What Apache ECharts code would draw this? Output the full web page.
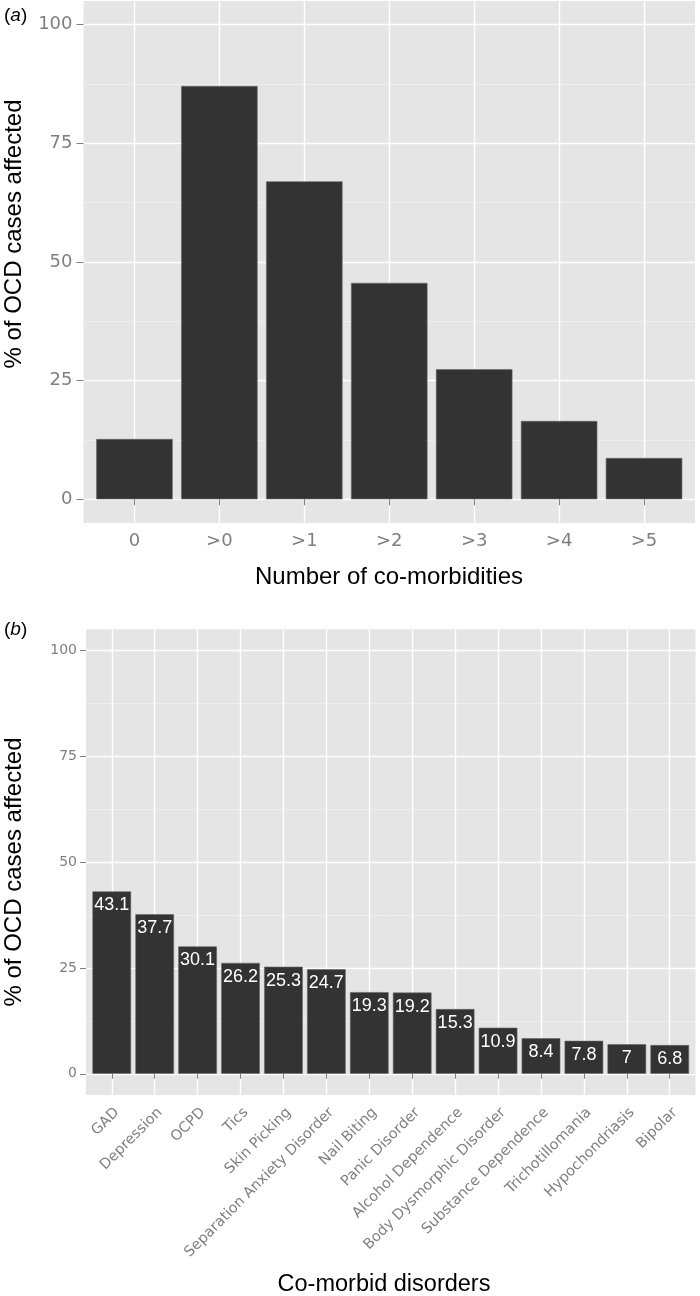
<!DOCTYPE html>
<html>
<head>
<meta charset="utf-8">
<script src="https://cdn.jsdelivr.net/npm/echarts@6/dist/echarts.min.js"></script>
<style>html,body{margin:0;padding:0;background:#fff;}#c{width:700px;height:1296px;}</style>
</head>
<body>
<div id="c"></div>
<script>
// ---- data ----
const catsA = ['0', '>0', '>1', '>2', '>3', '>4', '>5'];
const valsA = [12.7, 87.1, 67.0, 45.6, 27.4, 16.5, 8.7];
const catsB = ['GAD', 'Depression', 'OCPD', 'Tics', 'Skin Picking', 'Separation Anxiety Disorder',
  'Nail Biting', 'Panic Disorder', 'Alcohol Dependence', 'Body Dysmorphic Disorder',
  'Substance Dependence', 'Trichotillomania', 'Hypochondriasis', 'Bipolar'];
const valsB = [43.1, 37.7, 30.1, 26.2, 25.3, 24.7, 19.3, 19.2, 15.3, 10.9, 8.4, 7.8, 7, 6.8];
const yTicks = [0, 25, 50, 75, 100];
const titleA_x = 'Number of co-morbidities';
const titleB_x = 'Co-morbid disorders';
const titleY = '% of OCD cases affected';

// ---- layout ----
const TICK_FONT = 'DejaVu Sans';
const MAIN_FONT = 'Liberation Sans, Arial, sans-serif';
const GREY = '#7F7F7F';
const BG = '#E5E5E5';
const yMin = yTicks[0], yMax = yTicks[yTicks.length - 1], yStep = yTicks[1] - yTicks[0];
const pad = (yMax - yMin) * 0.05;

function panel(p) {
  const unit = p.width / (p.nCat + 0.2);
  const scale = p.height / (yMax - yMin + 2 * pad);
  return {
    bg: { left: p.left, top: p.top, width: p.width, height: p.height },
    h: { left: p.left, top: p.top + pad * scale, width: p.width, height: (yMax - yMin) * scale },
    v: { left: p.left + 0.1 * unit, top: p.top, width: unit * p.nCat, height: p.height }
  };
}
const PA = panel({ left: 83.5, top: 1, width: 611.5, height: 522, nCat: catsA.length });
const PB = panel({ left: 86, top: 629.3, width: 609.5, height: 465.7, nCat: catsB.length });

function grid(g, extra) { return Object.assign({ containLabel: false }, g, extra || {}); }

const chart = echarts.init(document.getElementById('c'), null, { renderer: 'canvas' });

function hAxisY(gi, fs, margin, tickLen) {
  return {
    gridIndex: gi, type: 'value', min: yMin, max: yMax, interval: yStep, z: 1,
    axisLine: { show: false },
    axisTick: { show: true, length: tickLen, lineStyle: { color: GREY, width: 1 } },
    axisLabel: { color: GREY, fontSize: fs, fontFamily: TICK_FONT, margin: margin },
    splitLine: { show: true, lineStyle: { color: '#FFFFFF', width: 1.4 } },
    minorTick: { show: false, splitNumber: 2 },
    minorSplitLine: { show: true, lineStyle: { color: '#F2F2F2', width: 0.7 } }
  };
}
function vAxisX(gi, cats, fs, margin, rotate, tickLen, vAlign) {
  const lbl = { color: GREY, fontSize: fs, fontFamily: TICK_FONT, margin: margin, rotate: rotate, interval: 0 };
  if (vAlign) { lbl.verticalAlign = vAlign; lbl.align = 'right'; }
  return {
    gridIndex: gi, type: 'category', data: cats, z: 1,
    axisLine: { show: false },
    axisTick: { show: true, alignWithLabel: true, interval: 0, length: tickLen, lineStyle: { color: GREY, width: 1 } },
    axisLabel: lbl,
    splitLine: { show: true, alignWithLabel: true, interval: 0, lineStyle: { color: '#FFFFFF', width: 1.4 } }
  };
}
function vAxisY(gi) {
  return { gridIndex: gi, type: 'value', min: yMin - pad, max: yMax + pad, show: false,
    splitLine: { show: false } };
}

const option = {
  animation: false,
  backgroundColor: '#FFFFFF',
  grid: [
    grid(PA.bg, { show: true, backgroundColor: BG, borderWidth: 0, z: 0 }),
    grid(PA.h),
    grid(PA.v),
    grid(PB.bg, { show: true, backgroundColor: BG, borderWidth: 0, z: 0 }),
    grid(PB.h),
    grid(PB.v)
  ],
  xAxis: [
    { gridIndex: 0, type: 'value', show: false, splitLine: { show: false } },
    { gridIndex: 1, type: 'value', show: false, splitLine: { show: false } },
    vAxisX(2, catsA, 18, 9, 0, 6),
    { gridIndex: 3, type: 'value', show: false, splitLine: { show: false } },
    { gridIndex: 4, type: 'value', show: false, splitLine: { show: false } },
    vAxisX(5, catsB, 14.5, 10, 45, 5, 'top')
  ],
  yAxis: [
    { gridIndex: 0, type: 'value', show: false, splitLine: { show: false } },
    hAxisY(1, 18, 11, 7),
    vAxisY(2),
    { gridIndex: 3, type: 'value', show: false, splitLine: { show: false } },
    hAxisY(4, 14, 9, 6),
    vAxisY(5)
  ],
  series: [
    {
      type: 'bar', xAxisIndex: 2, yAxisIndex: 2, data: valsA, barCategoryGap: '10%', z: 3,
      itemStyle: { color: '#333333', borderColor: '#666666', borderWidth: 0.6 }
    },
    {
      type: 'bar', xAxisIndex: 5, yAxisIndex: 5, data: valsB, barCategoryGap: '10%', z: 3,
      itemStyle: { color: '#333333', borderColor: '#666666', borderWidth: 0.6 },
      label: { show: true, position: 'insideTop', distance: 5, color: '#FFFFFF',
        fontSize: 18, fontFamily: MAIN_FONT, formatter: '{c}' }
    }
  ],
  graphic: [
    { type: 'text', x: 4, y: 16, style: { text: '{n|(}{i|a}{n|)}', verticalAlign: 'middle',
        rich: { n: { fontSize: 19, fontFamily: MAIN_FONT, fill: '#000' },
                i: { fontSize: 19, fontFamily: MAIN_FONT, fontStyle: 'italic', fill: '#000' } } } },
    { type: 'text', x: 4, y: 630, style: { text: '{n|(}{i|b}{n|)}', verticalAlign: 'middle',
        rich: { n: { fontSize: 19, fontFamily: MAIN_FONT, fill: '#000' },
                i: { fontSize: 19, fontFamily: MAIN_FONT, fontStyle: 'italic', fill: '#000' } } } },
    { type: 'text', x: 14, y: 234, rotation: Math.PI / 2,
      style: { text: titleY, fontSize: 24, fontFamily: MAIN_FONT, fill: '#000', align: 'center', verticalAlign: 'middle' } },
    { type: 'text', x: 14, y: 872, rotation: Math.PI / 2,
      style: { text: titleY, fontSize: 24, fontFamily: MAIN_FONT, fill: '#000', align: 'center', verticalAlign: 'middle' } },
    { type: 'text', x: 389, y: 577,
      style: { text: titleA_x, fontSize: 24, fontFamily: MAIN_FONT, fill: '#000', align: 'center', verticalAlign: 'middle' } },
    { type: 'text', x: 384, y: 1285,
      style: { text: titleB_x, fontSize: 23.5, fontFamily: MAIN_FONT, fill: '#000', align: 'center', verticalAlign: 'middle' } }
  ]
};
chart.setOption(option);
</script>
</body>
</html>
